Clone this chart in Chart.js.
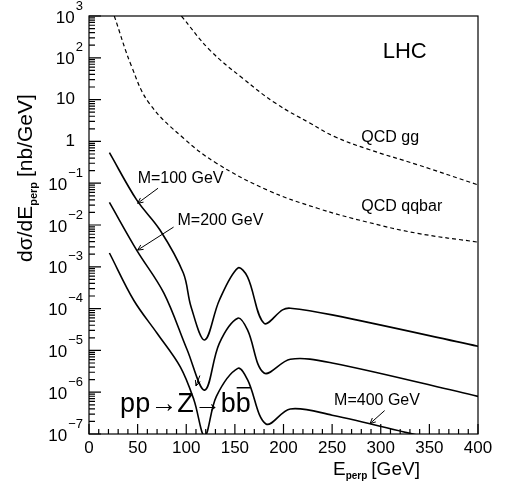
<!DOCTYPE html>
<html>
<head>
<meta charset="utf-8">
<script src="https://cdn.jsdelivr.net/npm/chart.js@4"></script>
<style>
  html, body { margin: 0; padding: 0; background: #fff; }
  #wrap { width: 505px; height: 485px; }
</style>
</head>
<body>
<div id="wrap"><canvas id="chart" width="505" height="485"></canvas></div>
<script>
/* ─── Data (y values stored as log10 of dσ/dE [nb/GeV]) ─────────────── */
const qcdGgX    = [95, 124, 158, 192, 227, 252, 286, 338, 400];
const qcdGgY    = [3.0, 2.19, 1.51, 0.91, 0.44, 0.12, -0.18, -0.56, -1.04];
const qcdQqX    = [26, 44, 62, 97, 131, 183, 235, 286, 338, 400];
const qcdQqY    = [3.0, 1.78, 0.91, 0.08, -0.52, -1.16, -1.60, -1.93, -2.20, -2.41];
const m100X     = [21, 49, 73, 97, 105, 119, 134, 153, 163, 180, 199, 207, 250, 400];
const m100Y     = [-0.27, -1.40, -2.12, -3.15, -3.96, -4.75, -3.80, -3.03, -3.24, -4.35, -4.03, -3.99, -4.15, -4.90];
const m200X     = [21, 49, 77, 101, 119, 134, 153, 163, 180, 207, 250, 400];
const m200Y     = [-1.46, -2.60, -3.63, -4.99, -5.95, -4.83, -4.23, -4.51, -5.54, -5.21, -5.30, -6.10];
const m400X     = [21, 46, 70, 94, 108, 119, 131, 153, 163, 182, 207, 250, 333, 360];
const m400Y     = [-2.67, -3.80, -4.59, -5.40, -6.19, -7.05, -6.10, -5.43, -5.70, -6.76, -6.40, -6.55, -7.00, -7.15];
const xTicks    = [0, 50, 100, 150, 200, 250, 300, 350, 400];
const yDecades  = [3, 2, 1, 0, -1, -2, -3, -4, -5, -6, -7];

const pts = (xs, ys) => xs.map((x, i) => ({ x, y: ys[i] }));
const FONT = 'Helvetica, "Liberation Sans", Arial, sans-serif';

/* ─── Custom axes, ticks and annotations ─────────────────────────────── */
const decor = {
  id: 'decor',
  afterDraw(chart) {
    const { ctx, chartArea: a, scales: { x, y } } = chart;
    const px = v => x.getPixelForValue(v), py = v => y.getPixelForValue(v);
    ctx.save();
    ctx.strokeStyle = '#000'; ctx.fillStyle = '#000'; ctx.lineWidth = 1.2;
    ctx.strokeRect(a.left, a.top, a.right - a.left, a.bottom - a.top);

    // x ticks (inward)
    ctx.beginPath();
    for (let v = 0; v <= 400; v += 10) {
      const len = v % 50 === 0 ? 10 : 5;
      ctx.moveTo(px(v), a.bottom); ctx.lineTo(px(v), a.bottom - len);
    }
    // y ticks (log minor)
    for (let d = -7; d < 3; d++) {
      for (let k = 1; k < 10; k++) {
        const v = d + Math.log10(k), len = k === 1 ? 12 : 6;
        ctx.moveTo(a.left, py(v)); ctx.lineTo(a.left + len, py(v));
      }
    }
    ctx.moveTo(a.left, py(3)); ctx.lineTo(a.left + 12, py(3));
    ctx.stroke();

    ctx.font = '17px ' + FONT;
    ctx.textAlign = 'center'; ctx.textBaseline = 'top';
    xTicks.forEach(v => ctx.fillText(String(v), px(v), a.bottom + 6));

    // y labels
    yDecades.forEach(d => {
      const yy = py(d);
      ctx.textBaseline = 'middle';
      if (d === 1 || d === 0) {
        ctx.font = '17px ' + FONT; ctx.textAlign = 'right';
        ctx.fillText(d === 1 ? '10' : '1', a.left - 14, yy);
      } else {
        const sup = d < 0 ? '\u2212' + (-d) : String(d);
        ctx.font = '13px ' + FONT; ctx.textAlign = 'left';
        const sw = ctx.measureText(sup).width;
        const supX = a.left - 6 - sw;
        ctx.fillText(sup, supX, yy - 10);
        ctx.font = '17px ' + FONT; ctx.textAlign = 'right';
        ctx.fillText('10', supX - 1, yy + 2);
      }
    });

    // axis titles
    ctx.font = '19px ' + FONT;
    ctx.textAlign = 'left'; ctx.textBaseline = 'alphabetic';
    let tx = 333;
    ctx.fillText('E', tx, 475); tx += ctx.measureText('E').width;
    ctx.font = 'bold 10px ' + FONT; ctx.fillText('perp', tx, 479); tx += ctx.measureText('perp').width + 4;
    ctx.font = '19px ' + FONT; ctx.fillText('[GeV]', tx, 475);

    ctx.save();
    ctx.translate(32, 262); ctx.rotate(-Math.PI / 2);
    ctx.textAlign = 'left';
    let ty = 0;
    ctx.font = '21px ' + FONT;
    ctx.fillText('d\u03c3/dE', ty, 0); ty += ctx.measureText('d\u03c3/dE').width;
    ctx.font = 'bold 11px ' + FONT; ctx.fillText('perp', ty, 5); ty += ctx.measureText('perp').width + 5;
    ctx.font = '21px ' + FONT; ctx.fillText('[nb/GeV]', ty, 0);
    ctx.restore();

    // annotations
    const label = (t, vx, vy, size) => {
      ctx.font = (size || 16) + 'px ' + FONT;
      ctx.textAlign = 'left'; ctx.textBaseline = 'middle';
      ctx.fillText(t, px(vx), py(vy));
    };
    const arrow = (x1, y1, x2, y2) => {
      const X1 = px(x1), Y1 = py(y1), X2 = px(x2), Y2 = py(y2);
      const ang = Math.atan2(Y2 - Y1, X2 - X1);
      ctx.lineWidth = 1;
      ctx.beginPath(); ctx.moveTo(X1, Y1); ctx.lineTo(X2, Y2);
      ctx.moveTo(X2, Y2); ctx.lineTo(X2 - 6 * Math.cos(ang - 0.45), Y2 - 6 * Math.sin(ang - 0.45));
      ctx.moveTo(X2, Y2); ctx.lineTo(X2 - 6 * Math.cos(ang + 0.45), Y2 - 6 * Math.sin(ang + 0.45));
      ctx.stroke();
    };
    label('LHC', 302, 2.15, 22);
    label('QCD gg', 280, 0.1);
    label('QCD qqbar', 280, -1.55);
    label('M=100 GeV', 50, -0.9);
    arrow(71, -1.12, 50, -1.48);
    label('M=200 GeV', 91, -1.9);
    arrow(87, -2.05, 50, -2.6);
    label('M=400 GeV', 252, -6.2);
    arrow(304, -6.44, 289, -6.75);
    arrow(114, -5.6, 110, -5.85);

    ctx.font = '27px ' + FONT; ctx.textBaseline = 'middle'; ctx.textAlign = 'left';
    const rx = px(32), ry = py(-6.3);
    const t1 = 'pp\u2192Z\u2192b';
    ctx.fillText(t1 + 'b', rx, ry);
    const w1 = ctx.measureText(t1).width, wb = ctx.measureText('b').width;
    ctx.lineWidth = 1.5;
    ctx.beginPath(); ctx.moveTo(rx + w1 + 1, ry - 17); ctx.lineTo(rx + w1 + wb, ry - 17); ctx.stroke();
    ctx.restore();
  }
};

const solid = (xs, ys) => ({ data: pts(xs, ys), borderColor: '#000', borderWidth: 1.6, pointRadius: 0, tension: 0.35 });
const dashed = (xs, ys) => ({ ...solid(xs, ys), borderWidth: 1.2, borderDash: [4, 3], tension: 0.4 });

new Chart(document.getElementById('chart'), {
  type: 'line',
  data: { datasets: [dashed(qcdGgX, qcdGgY), dashed(qcdQqX, qcdQqY), solid(m100X, m100Y), solid(m200X, m200Y), solid(m400X, m400Y)] },
  options: {
    responsive: false, animation: false,
    layout: { padding: { left: 89, right: 27, top: 16, bottom: 51 } },
    plugins: { legend: { display: false }, tooltip: { enabled: false } },
    scales: {
      x: { type: 'linear', min: 0, max: 400, display: false },
      y: { type: 'linear', min: -7, max: 3, display: false }
    }
  },
  plugins: [decor, { id: 'clip', beforeDatasetsDraw(c) { const a = c.chartArea; c.ctx.save(); c.ctx.beginPath(); c.ctx.rect(a.left, a.top, a.right - a.left, a.bottom - a.top); c.ctx.clip(); }, afterDatasetsDraw(c) { c.ctx.restore(); } }]
});
</script>
</body>
</html>
